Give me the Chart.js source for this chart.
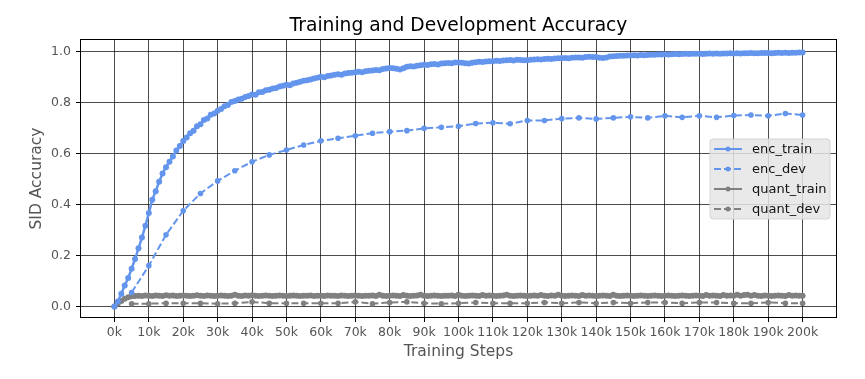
<!DOCTYPE html>
<html>
<head>
<meta charset="utf-8">
<script src="https://cdn.jsdelivr.net/npm/chart.js@4.4.0/dist/chart.umd.min.js"></script>
<style>
  html, body { margin: 0; padding: 0; background: #fff; }
  #wrap { width: 865px; height: 379px; }
</style>
</head>
<body>
<div id="wrap"><canvas id="accChart" width="865" height="379"></canvas></div>
<script>
// accuracy logged every 1k steps for train, every 5k steps for dev
const trainStepK = 1;
const devStepK = 5;

const encTrain = [
  0.000, 0.020, 0.050, 0.082, 0.112, 0.148, 0.186, 0.228, 0.270, 0.316,
  0.366, 0.418, 0.452, 0.489, 0.521, 0.546, 0.567, 0.588, 0.611, 0.629,
  0.648, 0.662, 0.679, 0.689, 0.706, 0.714, 0.731, 0.737, 0.751, 0.756,
  0.767, 0.774, 0.785, 0.789, 0.801, 0.805, 0.811, 0.814, 0.821, 0.825,
  0.831, 0.830, 0.839, 0.840, 0.847, 0.849, 0.854, 0.856, 0.862, 0.865,
  0.869, 0.867, 0.874, 0.877, 0.881, 0.884, 0.886, 0.889, 0.893, 0.896,
  0.900, 0.898, 0.903, 0.905, 0.908, 0.910, 0.908, 0.913, 0.915, 0.916,
  0.918, 0.920, 0.918, 0.922, 0.924, 0.925, 0.927, 0.926, 0.930, 0.932,
  0.934, 0.933, 0.931, 0.929, 0.933, 0.939, 0.941, 0.940, 0.943, 0.945,
  0.947, 0.946, 0.949, 0.950, 0.948, 0.952, 0.953, 0.954, 0.953, 0.956,
  0.956, 0.955, 0.953, 0.952, 0.955, 0.957, 0.959, 0.958, 0.960, 0.961,
  0.961, 0.963, 0.962, 0.964, 0.965, 0.966, 0.964, 0.967, 0.966, 0.965,
  0.965, 0.967, 0.968, 0.969, 0.968, 0.970, 0.971, 0.970, 0.972, 0.973,
  0.973, 0.974, 0.973, 0.975, 0.976, 0.976, 0.975, 0.977, 0.978, 0.977,
  0.977, 0.975, 0.974, 0.976, 0.979, 0.980, 0.981, 0.982, 0.982, 0.983,
  0.983, 0.984, 0.983, 0.985, 0.984, 0.985, 0.986, 0.986, 0.987, 0.987,
  0.988, 0.987, 0.988, 0.989, 0.988, 0.989, 0.990, 0.989, 0.990, 0.990,
  0.990, 0.989, 0.990, 0.991, 0.990, 0.991, 0.990, 0.991, 0.991, 0.992,
  0.991, 0.992, 0.991, 0.992, 0.992, 0.993, 0.992, 0.992, 0.993, 0.993,
  0.993, 0.992, 0.993, 0.994, 0.993, 0.994, 0.993, 0.994, 0.994, 0.995,
  0.995
];

const quantTrain = [
  0.000, 0.012, 0.022, 0.030, 0.036, 0.040, 0.041, 0.042, 0.041, 0.043,
  0.042, 0.041, 0.043, 0.042, 0.041, 0.044, 0.042, 0.043, 0.041, 0.042,
  0.043, 0.042, 0.041, 0.042, 0.044, 0.042, 0.041, 0.043, 0.042, 0.041,
  0.042, 0.043, 0.042, 0.041, 0.042, 0.046, 0.042, 0.041, 0.043, 0.042,
  0.044, 0.042, 0.041, 0.042, 0.043, 0.042, 0.041, 0.042, 0.043, 0.042,
  0.041, 0.042, 0.043, 0.042, 0.041, 0.042, 0.042, 0.043, 0.041, 0.042,
  0.042, 0.041, 0.043, 0.042, 0.042, 0.041, 0.043, 0.042, 0.041, 0.042,
  0.043, 0.042, 0.041, 0.042, 0.042, 0.043, 0.041, 0.046, 0.042, 0.041,
  0.042, 0.043, 0.042, 0.041, 0.045, 0.042, 0.041, 0.042, 0.043, 0.046,
  0.042, 0.041, 0.042, 0.043, 0.042, 0.041, 0.042, 0.042, 0.043, 0.041,
  0.046, 0.042, 0.041, 0.042, 0.043, 0.042, 0.041, 0.045, 0.042, 0.043,
  0.042, 0.041, 0.042, 0.043, 0.046, 0.042, 0.041, 0.042, 0.043, 0.042,
  0.041, 0.042, 0.043, 0.042, 0.045, 0.042, 0.041, 0.043, 0.042, 0.046,
  0.042, 0.041, 0.042, 0.043, 0.042, 0.041, 0.045, 0.042, 0.043, 0.042,
  0.041, 0.042, 0.043, 0.042, 0.041, 0.046, 0.042, 0.041, 0.042, 0.043,
  0.042, 0.041, 0.042, 0.043, 0.042, 0.041, 0.042, 0.043, 0.042, 0.041,
  0.042, 0.043, 0.042, 0.041, 0.042, 0.043, 0.042, 0.041, 0.042, 0.043,
  0.042, 0.041, 0.045, 0.042, 0.043, 0.042, 0.041, 0.045, 0.042, 0.043,
  0.042, 0.046, 0.042, 0.045, 0.046, 0.042, 0.045, 0.042, 0.041, 0.043,
  0.042, 0.041, 0.042, 0.043, 0.042, 0.041, 0.045, 0.042, 0.043, 0.042,
  0.042
];

// dev points start at 5k
const encDev = [
  0.055, 0.160, 0.281, 0.375, 0.443, 0.492, 0.532, 0.567, 0.594, 0.613,
  0.633, 0.649, 0.659, 0.669, 0.679, 0.685, 0.689, 0.698, 0.702, 0.706,
  0.717, 0.720, 0.716, 0.729, 0.729, 0.736, 0.739, 0.735, 0.739, 0.743,
  0.739, 0.747, 0.741, 0.747, 0.741, 0.748, 0.750, 0.747, 0.756, 0.750
];

const quantDev = [
  0.011, 0.011, 0.013, 0.013, 0.013, 0.011, 0.013, 0.018, 0.013, 0.013,
  0.013, 0.013, 0.013, 0.018, 0.011, 0.016, 0.018, 0.013, 0.011, 0.013,
  0.016, 0.013, 0.013, 0.013, 0.016, 0.013, 0.016, 0.013, 0.016, 0.013,
  0.016, 0.016, 0.013, 0.016, 0.016, 0.013, 0.013, 0.016, 0.013, 0.013
];

const xTicks = [0, 10, 20, 30, 40, 50, 60, 70, 80, 90, 100,
  110, 120, 130, 140, 150, 160, 170, 180, 190, 200];
const yTicks = [0.0, 0.2, 0.4, 0.6, 0.8, 1.0];

const BLUE = "#6495ED";
const GRAY = "#808080";
const FONT = "'DejaVu Sans', sans-serif";

const toPoints = (vals, startK, stepK) =>
  vals.map((v, i) => ({ x: (startK + i * stepK) * 1000, y: v }));

const datasets = [
  { label: "enc_train", data: toPoints(encTrain, 0, trainStepK), borderColor: BLUE,
    backgroundColor: BLUE, borderWidth: 2.5, pointRadius: 3, borderDash: [] },
  { label: "enc_dev", data: toPoints(encDev, 5, devStepK), borderColor: BLUE,
    backgroundColor: BLUE, borderWidth: 2, pointRadius: 2.8, borderDash: [7, 3] },
  { label: "quant_train", data: toPoints(quantTrain, 0, trainStepK), borderColor: GRAY,
    backgroundColor: GRAY, borderWidth: 2.5, pointRadius: 3, borderDash: [] },
  { label: "quant_dev", data: toPoints(quantDev, 5, devStepK), borderColor: GRAY,
    backgroundColor: GRAY, borderWidth: 2, pointRadius: 2.8, borderDash: [7, 3] },
].map((d) => ({ ...d, pointBorderWidth: 0, tension: 0, fill: false }));

// spines on all four sides, title over the axes, and a matplotlib-like legend box
const frameAndLegend = {
  id: "frameAndLegend",
  afterDatasetsDraw(chart) {
    const { ctx, chartArea: a } = chart;
    ctx.save();
    ctx.strokeStyle = "#000";
    ctx.lineWidth = 1;
    const l = Math.round(a.left) + 0.5, r = Math.round(a.right) - 0.5;
    const t = Math.round(a.top) + 0.5, b = Math.round(a.bottom) - 0.5;
    ctx.strokeRect(l, t, r - l, b - t);

    ctx.fillStyle = "#000";
    ctx.font = "18.7px " + FONT;
    ctx.textAlign = "center";
    ctx.textBaseline = "middle";
    ctx.fillText("Training and Development Accuracy", (a.left + a.right) / 2, 26);
    ctx.textAlign = "left";

    const bx = a.right - 127, by = a.top + 100, bw = 120, bh = 80;
    ctx.beginPath();
    ctx.roundRect(bx, by, bw, bh, 3);
    ctx.fillStyle = "rgba(229,229,229,0.85)";
    ctx.fill();
    ctx.strokeStyle = "rgba(210,210,210,0.9)";
    ctx.stroke();

    ctx.font = "13px " + FONT;
    datasets.forEach((d, i) => {
      const y = by + 10 + i * 20;
      ctx.strokeStyle = d.borderColor;
      ctx.lineWidth = 2;
      ctx.setLineDash(d.borderDash);
      ctx.beginPath();
      ctx.moveTo(bx + 4, y);
      ctx.lineTo(bx + 32, y);
      ctx.stroke();
      ctx.setLineDash([]);
      ctx.fillStyle = d.borderColor;
      ctx.beginPath();
      ctx.arc(bx + 18, y, 2.5, 0, Math.PI * 2);
      ctx.fill();
      ctx.fillStyle = "#111";
      ctx.fillText(d.label, bx + 42, y + 1);
    });
    ctx.restore();
  },
};

const ctx = document.getElementById("accChart").getContext("2d");
new Chart(ctx, {
  type: "line",
  data: { datasets },
  options: {
    responsive: false,
    animation: false,
    devicePixelRatio: 1,
    layout: { padding: { left: 0, right: 28, top: 39, bottom: 0 } },
    plugins: {
      legend: { display: false },
      tooltip: { enabled: false },
      title: { display: false },
    },
    scales: {
      x: {
        type: "linear",
        min: -10000,
        max: 210000,
        afterBuildTicks: (scale) => {
          scale.ticks = xTicks.map((k) => ({ value: k * 1000 }));
        },
        afterFit: (scale) => { scale.height = 61; },
        ticks: {
          autoSkip: false,
          maxRotation: 0,
          padding: 3,
          color: "#555",
          font: { family: FONT, size: 12.5 },
          callback: (v) => v / 1000 + "k",
        },
        grid: { color: "rgba(0,0,0,0.7)", lineWidth: 1, tickLength: 4, tickColor: "#000" },
        border: { display: false },
        title: {
          display: true,
          text: "Training Steps",
          color: "#555",
          font: { family: FONT, size: 15.5 },
          padding: { top: 0, bottom: 18 },
        },
      },
      y: {
        type: "linear",
        min: -0.045,
        max: 1.048,
        afterBuildTicks: (scale) => {
          scale.ticks = yTicks.map((v) => ({ value: v }));
        },
        afterFit: (scale) => { scale.width = 80; },
        ticks: {
          padding: 5,
          color: "#555",
          font: { family: FONT, size: 12.5 },
          callback: (v) => v.toFixed(1),
        },
        grid: { color: "rgba(0,0,0,0.7)", lineWidth: 1, tickLength: 4, tickColor: "#000" },
        border: { display: false },
        title: {
          display: true,
          text: "SID Accuracy",
          color: "#555",
          font: { family: FONT, size: 15.5 },
          padding: { top: 28, bottom: 0 },
        },
      },
    },
  },
  plugins: [frameAndLegend],
});
</script>
</body>
</html>
